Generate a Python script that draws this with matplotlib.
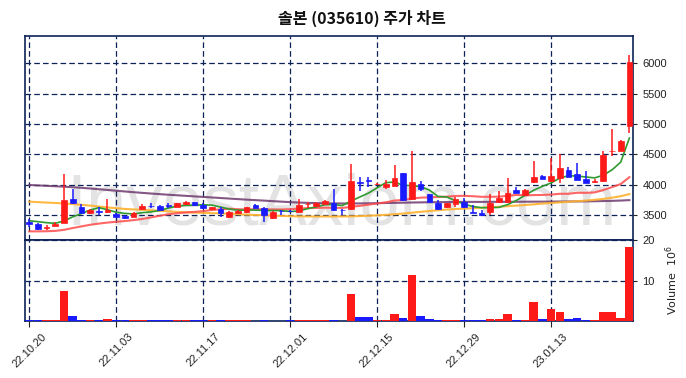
import matplotlib
matplotlib.use('Agg')
import matplotlib.pyplot as plt
import numpy as np
import pandas as pd

# ---------------- data ----------------
dates = ['22.10.20', '22.10.21', '22.10.24', '22.10.25', '22.10.26', '22.10.27', '22.10.28', '22.10.31',
         '22.11.01', '22.11.02', '22.11.03', '22.11.04', '22.11.07', '22.11.08', '22.11.09', '22.11.10',
         '22.11.11', '22.11.14', '22.11.15', '22.11.16', '22.11.17', '22.11.18', '22.11.21', '22.11.22',
         '22.11.23', '22.11.24', '22.11.25', '22.11.28', '22.11.29', '22.11.30', '22.12.01', '22.12.02',
         '22.12.05', '22.12.06', '22.12.07', '22.12.08', '22.12.09', '22.12.12', '22.12.13', '22.12.14',
         '22.12.15', '22.12.16', '22.12.19', '22.12.20', '22.12.21', '22.12.22', '22.12.23', '22.12.26',
         '22.12.27', '22.12.28', '22.12.29', '23.01.02', '23.01.03', '23.01.04', '23.01.05', '23.01.06',
         '23.01.09', '23.01.10', '23.01.11', '23.01.12', '23.01.13', '23.01.16', '23.01.17', '23.01.18',
         '23.01.19', '23.01.20', '23.01.25', '23.01.26', '23.01.27', '23.01.30']

opens = [3390, 3350, 3285, 3325, 3365, 3760, 3640, 3530, 3560, 3545,
         3515, 3490, 3475, 3595, 3650, 3650, 3665, 3640, 3675, 3715,
         3665, 3595, 3595, 3465, 3530, 3550, 3665, 3620, 3445, 3570,
         3565, 3555, 3675, 3650, 3685, 3700, 3590, 3600, 4035, 4085,
         4005, 3955, 3980, 4185, 3765, 4010, 3840, 3705, 3625, 3680,
         3720, 3555, 3530, 3545, 3710, 3720, 3910, 3830, 4040, 4140,
         4065, 4105, 4235, 4175, 4090, 4050, 4060, 4550, 4555, 4965]
highs = [3430, 3365, 3335, 3380, 4175, 3925, 3680, 3600, 3637, 3760,
         3530, 3500, 3550, 3680, 3690, 3660, 3700, 3700, 3730, 3720,
         3690, 3640, 3625, 3565, 3575, 3640, 3675, 3630, 3560, 3585,
         3575, 3760, 3715, 3720, 3745, 3925, 3595, 4335, 4130, 4130,
         4020, 4070, 4320, 4200, 4560, 4060, 3850, 3740, 3700, 3790,
         3780, 3665, 3580, 3845, 3895, 4105, 3960, 3930, 4395, 4160,
         4440, 4500, 4290, 4350, 4225, 4100, 4560, 4925, 4730, 6145]
lows = [3310, 3250, 3255, 3320, 3360, 3680, 3530, 3520, 3500, 3540,
        3465, 3430, 3465, 3580, 3620, 3575, 3620, 3630, 3665, 3650,
        3600, 3585, 3460, 3455, 3520, 3540, 3610, 3390, 3430, 3500,
        3550, 3545, 3620, 3630, 3680, 3570, 3500, 3590, 3900, 3960,
        3995, 3925, 3970, 3730, 3755, 3900, 3715, 3590, 3615, 3630,
        3620, 3525, 3480, 3500, 3700, 3715, 3860, 3820, 4030, 4090,
        4050, 4020, 4120, 4070, 4020, 4020, 4050, 4470, 4550, 4860]
closes = [3350, 3265, 3295, 3350, 3745, 3690, 3540, 3580, 3550, 3580,
          3475, 3445, 3540, 3650, 3645, 3585, 3655, 3690, 3720, 3660,
          3620, 3625, 3530, 3555, 3565, 3635, 3620, 3495, 3550, 3560,
          3560, 3665, 3685, 3700, 3735, 3575, 3580, 4060, 4030, 4060,
          4010, 4005, 4115, 3745, 4050, 3925, 3720, 3595, 3690, 3760,
          3625, 3530, 3495, 3700, 3775, 3855, 3870, 3920, 4120, 4100,
          4135, 4270, 4120, 4080, 4030, 4060, 4490, 4560, 4715, 6020]
# volume in millions of shares
volumes_m = [0.25, 0.25, 0.2, 0.25, 7.4, 1.2, 0.3, 0.3, 0.2, 0.45,
             0.25, 0.25, 0.2, 0.2, 0.2, 0.25, 0.2, 0.2, 0.25, 0.2,
             0.25, 0.25, 0.25, 0.3, 0.3, 0.25, 0.05, 0.3, 0.05, 0.05,
             0.25, 0.3, 0.25, 0.3, 0.3, 0.25, 0.1, 6.6, 0.9, 0.9,
             0.25, 0.25, 1.65, 0.65, 11.3, 1.15, 0.5, 0.3, 0.25, 0.25,
             0.2, 0.2, 0.2, 0.45, 0.45, 1.65, 0.25, 0.3, 4.7, 0.45,
             2.9, 2.25, 0.45, 0.65, 0.25, 0.25, 2.25, 2.25, 0.65, 18.2]

# moving-average warm-up values (window reaches before first date)
ma5_head = [3405, 3390, 3373, 3363]
ma20_head = [3230, 3230, 3232, 3238, 3255, 3285, 3312, 3338, 3358, 3375,
             3388, 3400, 3415, 3435, 3460, 3487, 3512, 3530, 3542]
ma60 = [3720, 3712, 3705, 3698, 3690, 3680, 3668, 3655, 3640, 3625,
        3612, 3600, 3592, 3585, 3578, 3570, 3560, 3552, 3545, 3540,
        3535, 3530, 3525, 3520, 3512, 3505, 3500, 3495, 3490, 3485,
        3480, 3478, 3476, 3475, 3475, 3475, 3476, 3478, 3482, 3488,
        3494, 3502, 3512, 3524, 3538, 3552, 3565, 3578, 3590, 3598,
        3605, 3612, 3620, 3628, 3636, 3645, 3655, 3665, 3675, 3688,
        3698, 3708, 3718, 3728, 3738, 3750, 3765, 3785, 3810, 3845]
ma120 = [3995, 3988, 3981, 3974, 3967, 3958, 3948, 3937, 3925, 3913,
         3900, 3888, 3876, 3865, 3854, 3844, 3834, 3825, 3816, 3807,
         3798, 3789, 3780, 3771, 3762, 3753, 3745, 3737, 3728, 3720,
         3712, 3705, 3700, 3696, 3693, 3691, 3690, 3690, 3691, 3693,
         3695, 3698, 3700, 3703, 3706, 3708, 3710, 3712, 3714, 3715,
         3716, 3716, 3716, 3717, 3717, 3718, 3718, 3719, 3720, 3720,
         3721, 3722, 3723, 3724, 3725, 3727, 3730, 3733, 3738, 3745]

tick_labels = ['22.10.20', '22.11.03', '22.11.17', '22.12.01', '22.12.15', '22.12.29', '23.01.13']
price_ticks = [3500, 4000, 4500, 5000, 5500, 6000]
title = '솔본 (035610) 주가 차트'

# ---------------- derived ----------------
df = pd.DataFrame({'date': dates, 'open': opens, 'high': highs, 'low': lows,
                   'close': closes, 'volume': np.array(volumes_m) * 1e6})
x = np.arange(len(df))
ma5 = df['close'].rolling(5).mean().to_numpy()
ma5[:len(ma5_head)] = ma5_head
ma20 = df['close'].rolling(20).mean().to_numpy()
ma20[:len(ma20_head)] = ma20_head
up = df['close'] >= df['open']

RED = '#ff1a1a'
BLUE = '#1a1aff'
NAVY = '#0d2257'
TXT = '#222222'
TICKFONT = ['Liberation Sans', 'DejaVu Sans']
colors = np.where(up, RED, BLUE)

plt.rcParams['font.family'] = ['Noto Sans CJK KR', 'DejaVu Sans']

fig = plt.figure(figsize=(6.86, 3.78), dpi=100)
L, R = 25.3 / 686, 633.3 / 686
ax = fig.add_axes([L, 1 - 240 / 378, R - L, (240 - 36) / 378])
axv = fig.add_axes([L, 1 - 321 / 378, R - L, (321 - 240) / 378], sharex=ax)

# watermark
ax.text(0.52, 0.075, 'InvestAxiom.com', transform=ax.transAxes, fontsize=52,
        family='Liberation Sans', color='#e3e3e3',
        ha='center', va='baseline', zorder=0, clip_on=True)

# moving averages
ax.plot(x, ma120, color='#6e3a6e', lw=1.5, alpha=0.85, zorder=2)
ax.plot(x, ma60, color='#ffb22e', lw=1.5, alpha=0.9, zorder=2)
ax.plot(x, ma20, color='#ff4b4b', lw=1.5, alpha=0.85, zorder=2)
ax.plot(x, ma5, color='#2f9a2f', lw=1.2, zorder=2)

# candles
body_w = 0.65
ax.vlines(x, df['low'], df['high'], colors=colors, lw=1.1, zorder=3)
bottoms = np.minimum(df['open'], df['close'])
heights = np.maximum(np.abs(df['close'] - df['open']), 8)
ax.bar(x, heights, body_w, bottom=bottoms, color=colors, edgecolor=colors, lw=0.5, zorder=4)

ax.set_ylim(df['low'].min() * 0.95, df['high'].max() * 1.05)
ax.set_xlim(-0.45, len(df) - 0.55)
ax.set_yticks(price_ticks)
ax.yaxis.tick_right()
ax.tick_params(axis='y', labelsize=8, colors=TXT, length=3)
ax.tick_params(axis='x', labelbottom=False, length=0)

# volume
axv.bar(x, df['volume'], 0.98, color=colors, zorder=3)
axv.set_ylim(0, df['volume'].max() * 1.1)
axv.set_yticks([10e6, 20e6])
axv.set_yticklabels(['10', '20'])
axv.yaxis.tick_right()
axv.yaxis.set_label_position('right')
axv.set_ylabel(r'Volume  $10^{6}$', fontsize=8, color=TXT, family='DejaVu Sans', labelpad=6)
axv.tick_params(axis='y', labelsize=8, colors=TXT, length=3)

tick_pos = [dates.index(t) for t in tick_labels]
axv.set_xticks(tick_pos)
axv.set_xticklabels(tick_labels, rotation=45, ha='center', fontsize=8,
                    color=TXT, family=TICKFONT)
axv.tick_params(axis='x', length=4, color=TXT)

for a in (ax, axv):
    a.grid(True, color=NAVY, ls=(0, (4.5, 2.5)), lw=0.9, zorder=1)
    a.set_axisbelow(True)
    for s in a.spines.values():
        s.set_color(NAVY)
        s.set_linewidth(1.2)
    for lab in a.get_yticklabels():
        lab.set_family(TICKFONT)

fig.text(0.528, 0.952, title, ha='center', va='center', fontsize=11.5, fontweight='bold', color='#111111')

fig.savefig('out.png', dpi=100)
